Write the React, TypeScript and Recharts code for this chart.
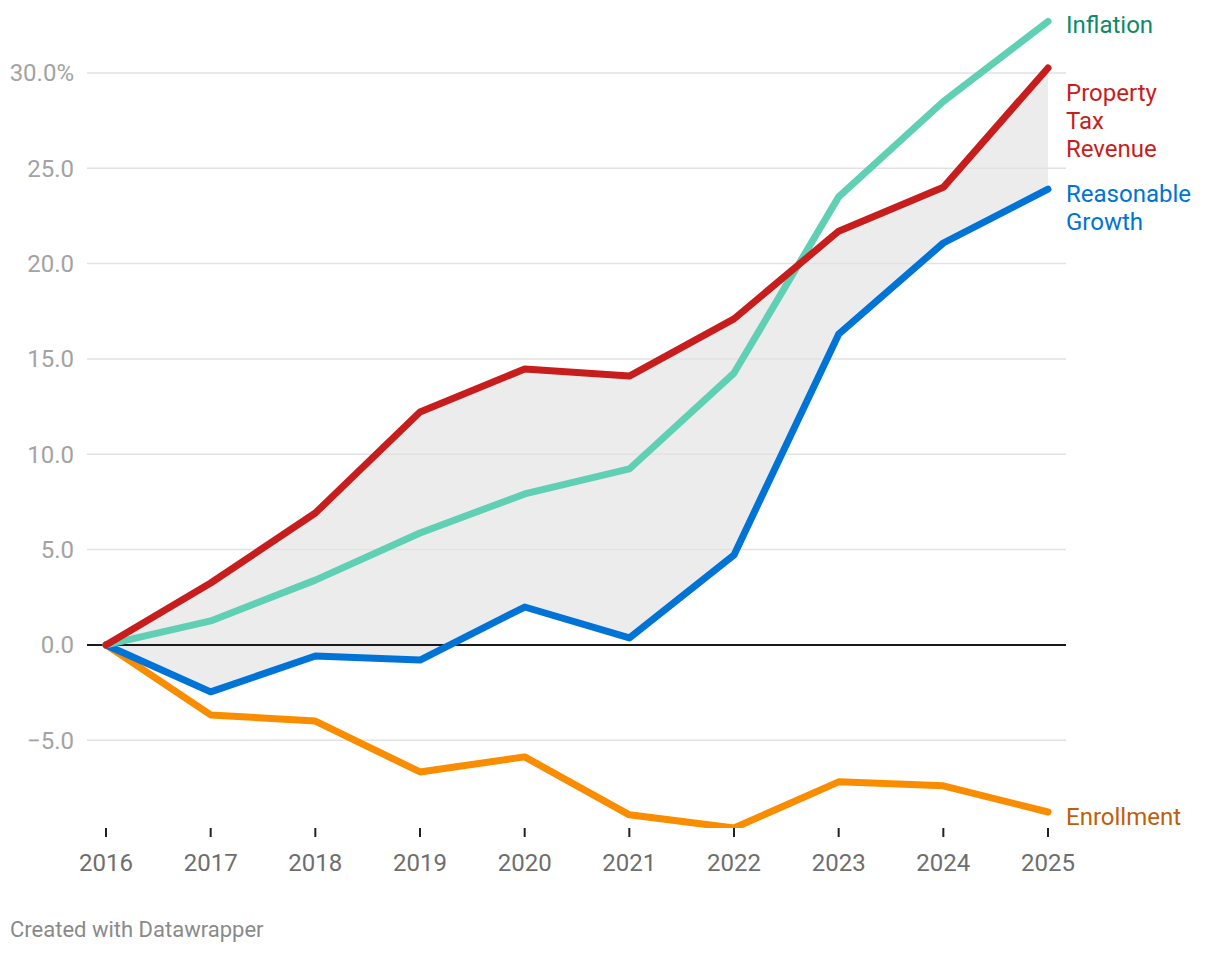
import React from "react";
import {
  ComposedChart,
  Line,
  Area,
  XAxis,
  YAxis,
  ReferenceLine,
} from "recharts";

const years = [2016, 2017, 2018, 2019, 2020, 2021, 2022, 2023, 2024, 2025];
const propertyTax = [0, 3.25, 6.92, 12.22, 14.47, 14.1, 17.1, 21.7, 24.0, 30.26];
const inflation = [0, 1.26, 3.4, 5.87, 7.92, 9.23, 14.26, 23.5, 28.5, 32.7];
const reasonableGrowth = [0, -2.46, -0.58, -0.79, 1.99, 0.37, 4.72, 16.3, 21.08, 23.9];
const enrollment = [0, -3.67, -3.99, -6.66, -5.87, -8.91, -9.6, -7.18, -7.39, -8.76];
const yTicks = [-5, 0, 5, 10, 15, 20, 25, 30];

const seriesLabels = {
  inflation: ["Inflation"],
  propertyTax: ["Property", "Tax", "Revenue"],
  reasonableGrowth: ["Reasonable", "Growth"],
  enrollment: ["Enrollment"],
};

const data = years.map((year, i) => ({
  year,
  propertyTax: propertyTax[i],
  inflation: inflation[i],
  reasonableGrowth: reasonableGrowth[i],
  enrollment: enrollment[i],
  band: [reasonableGrowth[i], propertyTax[i]],
}));

const FONT = 24;
const LINE_H = 28;

const endLabel = (lines: string[], color: string, offset: number) => (props: any) => {
  const { x, y, index } = props;
  if (index !== years.length - 1) return null;
  const baseY = y + offset + FONT * 0.36;
  return (
    <text x={x + 18} y={baseY} fill={color} fontSize={FONT} textAnchor="start">
      {lines.map((l, k) => (
        <tspan key={k} x={x + 18} dy={k === 0 ? 0 : LINE_H}>
          {l}
        </tspan>
      ))}
    </text>
  );
};

const fmtY = (v: number) => {
  const s = Math.abs(v).toFixed(1);
  const sign = v < 0 ? "\u2212" : "";
  return v === 30 ? `${sign}${s}%` : `${sign}${s}`;
};

export default function App() {
  return (
    <div
      style={{
        position: "absolute",
        left: 0,
        top: 0,
        width: 1220,
        height: 954,
        background: "#fff",
        fontFamily: "Roboto, sans-serif",
      }}
    >
      <ComposedChart
        width={1220}
        height={900}
        data={data}
        margin={{ top: 10, right: 154, bottom: 42, left: 0 }}
      >
        <XAxis
          dataKey="year"
          type="number"
          domain={[2016, 2025]}
          ticks={years}
          interval={0}
          padding={{ left: 19, right: 18 }}
          axisLine={false}
          tickSize={9}
          tickMargin={17}
          tickLine={{ stroke: "#222", strokeWidth: 2 }}
          tick={{ fill: "#6e6e6e", fontSize: FONT }}
          height={30}
        />
        <YAxis
          type="number"
          domain={[-9.6, 33.3]}
          allowDataOverflow
          ticks={yTicks}
          interval={0}
          width={87}
          axisLine={false}
          tickLine={false}
          tickSize={0}
          tickMargin={13}
          tickFormatter={fmtY}
          tick={{ fill: "#a3a3a3", fontSize: FONT }}
        />
        {yTicks
          .filter((t) => t !== 0)
          .map((t) => (
            <ReferenceLine key={t} y={t} stroke="#e2e2e2" strokeWidth={1.5} />
          ))}
        <Area
          dataKey="band"
          type="linear"
          stroke="none"
          fill="#000"
          fillOpacity={0.075}
          isAnimationActive={false}
        />
        <ReferenceLine y={0} stroke="#1a1a1a" strokeWidth={2} />
        <Line
          dataKey="enrollment"
          type="linear"
          stroke="#fa8c00"
          strokeWidth={7}
          strokeLinecap="round"
          strokeLinejoin="round"
          dot={false}
          activeDot={false}
          isAnimationActive={false}
          label={endLabel(seriesLabels.enrollment, "#c15e09", 4)}
        />
        <Line
          dataKey="reasonableGrowth"
          type="linear"
          stroke="#0073d7"
          strokeWidth={7}
          strokeLinecap="round"
          strokeLinejoin="round"
          dot={false}
          activeDot={false}
          isAnimationActive={false}
          label={endLabel(seriesLabels.reasonableGrowth, "#0073d7", 4)}
        />
        <Line
          dataKey="inflation"
          type="linear"
          stroke="#60d0b4"
          strokeWidth={7}
          strokeLinecap="round"
          strokeLinejoin="round"
          dot={false}
          activeDot={false}
          isAnimationActive={false}
          label={endLabel(seriesLabels.inflation, "#0c8a6a", 3)}
        />
        <Line
          dataKey="propertyTax"
          type="linear"
          stroke="#c71e1d"
          strokeWidth={7}
          strokeLinecap="round"
          strokeLinejoin="round"
          dot={false}
          activeDot={false}
          isAnimationActive={false}
          label={endLabel(seriesLabels.propertyTax, "#c71e1d", 24)}
        />
      </ComposedChart>
      <div
        style={{
          position: "absolute",
          left: 10,
          top: 918,
          fontSize: 22,
          lineHeight: "24px",
          color: "#8a8a8a",
        }}
      >
        Created with Datawrapper
      </div>
    </div>
  );
}
